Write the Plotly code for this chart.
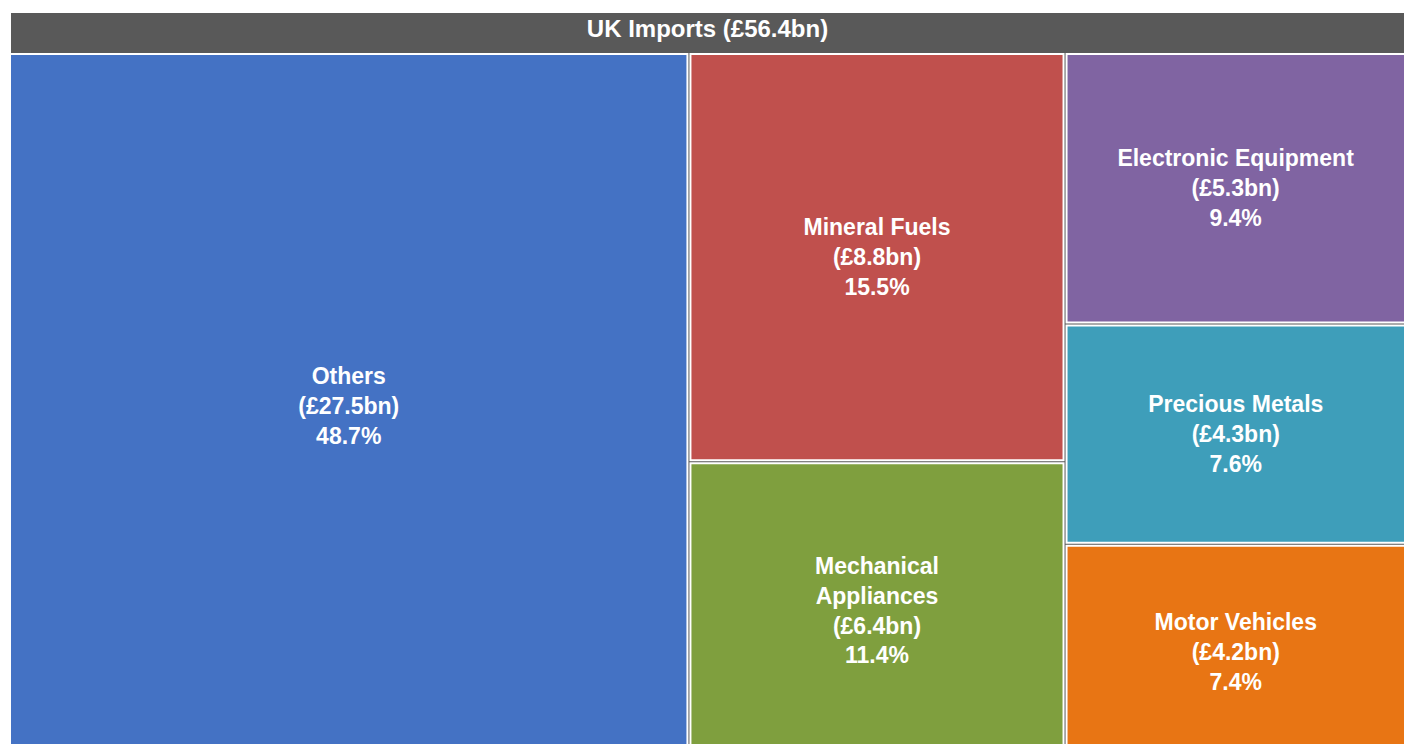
import plotly.graph_objects as go

root_label = "UK Imports"
root_total_bn = 56.4
categories = ["Others", "Mineral Fuels", "Mechanical Appliances",
              "Electronic Equipment", "Precious Metals", "Motor Vehicles"]
display_labels = ["Others", "Mineral Fuels", "Mechanical<br>Appliances",
                  "Electronic Equipment", "Precious Metals", "Motor Vehicles"]
values_bn = [27.5, 8.8, 6.4, 5.3, 4.3, 4.2]
shares_pct = [48.7, 15.5, 11.4, 9.4, 7.6, 7.4]
colors = ["#4472C4", "#C0504D", "#7F9F3E", "#8064A2", "#3E9EBA", "#E87514"]

root_name = f"<b>{root_label} (£{root_total_bn}bn)</b>"
ids = ["root"] + categories
labels = [root_name] + categories
parents = [""] + ["root"] * len(categories)
values = [0] + values_bn
templates = ["%{label}"] + [
    f"<b>{d}<br>(£{v}bn)<br>{p}%</b>" for d, v, p in zip(display_labels, values_bn, shares_pct)
]

fig = go.Figure(go.Treemap(
    ids=ids,
    labels=labels,
    parents=parents,
    values=values,
    branchvalues="remainder",
    texttemplate=templates,
    textposition="middle center",
    textfont=dict(family="Liberation Sans, Arial, sans-serif",
                  size=[24] + [23] * len(categories), color="white"),
    marker=dict(colors=["#595959"] + colors,
                line=dict(color="white", width=2),
                pad=dict(t=42, l=0, r=0, b=0)),
    pathbar=dict(visible=False),
    sort=False,
    tiling=dict(packing="squarify"),
    hoverinfo="skip",
))

fig.update_layout(
    width=1399, height=750,
    margin=dict(l=2, r=2, t=4, b=0),
    paper_bgcolor="white",
)

fig.write_html("out.html")
